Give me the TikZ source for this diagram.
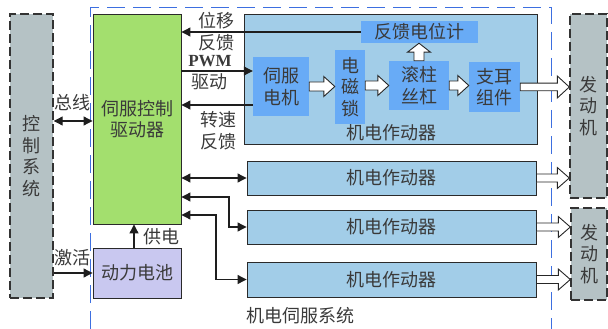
\documentclass[tikz,border=0pt]{standalone}
\usepackage{fontspec}
\setmainfont{Liberation Serif}
\newfontfamily\cjk{Noto Sans CJK SC}
\usetikzlibrary{arrows.meta,calc}
\definecolor{tc}{HTML}{3A3A3A}
\definecolor{bc}{HTML}{2A2A2A}
\definecolor{lc}{HTML}{1E1E1E}
\definecolor{gsys}{HTML}{B5C2C5}
\definecolor{gdrv}{HTML}{A3DF6E}
\definecolor{gbat}{HTML}{C9C8F0}
\definecolor{gema}{HTML}{A2CDE8}
\definecolor{ginn}{HTML}{68ABF6}
\definecolor{gfrm}{HTML}{3D6FE0}
\newcommand\blkarrow[5]{%
  \coordinate (bh) at ($(#2)!#5!(#1)$);
  \filldraw[blk] ($(#1)!#3!90:(#2)$) -- ($(bh)!#3!90:(#2)$) -- ($(bh)!#4!90:(#2)$) -- (#2)
    -- ($(bh)!#4!-90:(#2)$) -- ($(bh)!#3!-90:(#2)$) -- ($(#1)!#3!-90:(#2)$) -- cycle;}
\tikzset{
  txt/.style={font=\cjk\fontsize{18}{21.5}\selectfont, text=tc, align=center, inner sep=0pt},
  box/.style={draw=bc, line width=0.9pt, inner sep=0pt, txt},
  sysbox/.style={draw=black!80, fill=gsys, dash pattern=on 9pt off 4pt, line width=1.4pt, inner sep=0pt, txt},
  ln/.style={draw=lc, line width=1.1pt, >={Triangle[length=9pt,width=9pt]}},
  blk/.style={draw=black!85, fill=white, line width=0.9pt, line join=miter},
  frm/.style={draw=gfrm, line width=1pt, dash pattern=on 18pt off 8pt}
}
\begin{document}
\begin{tikzpicture}[x=1pt,y=-1pt]
\useasboundingbox (0,0) rectangle (608,329);
% frame
\draw[frm] (90,329) -- (90,8) -- (551,8) -- (551,329);
\node[txt] (frmlbl) at (300,316) {机电伺服系统};
% system boxes
\node[sysbox, minimum width=43pt, minimum height=284pt] (ctrl) at (31.5,156) {控\\制\\系\\统};
\node[sysbox, minimum width=37pt, minimum height=184pt] (eng1) at (588.5,106) {发\\动\\机};
\node[sysbox, minimum width=36pt, minimum height=92pt] (eng2) at (589,254) {发\\动\\机};
% driver and battery
\node[box, fill=gdrv, minimum width=88pt, minimum height=210pt] (drv) at (137,119) {伺服控制\\驱动器};
\node[box, fill=gbat, minimum width=88pt, minimum height=50pt] (bat) at (137,273) {动力电池};
% EMA 1
\node[box, fill=gema, minimum width=293pt, minimum height=130pt] (ema1) at (390.5,79) {};
\node[txt] (ema1lbl) at (391,133) {机电作动器};
\node[txt, fill=ginn, minimum width=56pt, minimum height=59pt] (motor) at (281,86.5) {伺服\\电机};
\node[txt, fill=ginn, minimum width=30pt, minimum height=74pt] (lock) at (350,87) {电\\磁\\锁};
\node[txt, fill=ginn, minimum width=60pt, minimum height=49pt] (screw) at (419,85.5) {滚柱\\丝杠};
\node[txt, fill=ginn, minimum width=51pt, minimum height=50pt] (lug) at (494.5,87) {支耳\\组件};
\node[txt, fill=ginn, minimum width=117pt, minimum height=22pt] (pot) at (419.5,32) {反馈电位计};
% other EMAs
\node[box, fill=gema, minimum width=289pt, minimum height=34pt] (ema2) at (391.5,178) {机电作动器};
\node[box, fill=gema, minimum width=289pt, minimum height=34pt] (ema3) at (391.5,227) {机电作动器};
\node[box, fill=gema, minimum width=289pt, minimum height=35pt] (ema4) at (391.5,279.5) {机电作动器};
% block arrows
\coordinate (t1) at (motor.east -| lock.west);
\blkarrow{motor.east}{t1}{4.5pt}{10pt}{11pt}
\coordinate (s2) at (screw.west -| lock.east);
\blkarrow{s2}{screw.west}{4.5pt}{10pt}{11pt}
\coordinate (t3) at (screw.east -| lug.west);
\blkarrow{screw.east}{t3}{4.5pt}{10pt}{11pt}
\coordinate (t4) at (screw.north |- pot.south);
\blkarrow{screw.north}{t4}{5pt}{11.5pt}{9pt}
\coordinate (t5) at (lug.east -| eng1.west);
\blkarrow{lug.east}{t5}{3.8pt}{11pt}{12pt}
\coordinate (t6) at (ema2.east -| eng1.west);
\blkarrow{ema2.east}{t6}{4pt}{10.5pt}{12pt}
\coordinate (t7) at (ema3.east -| eng2.west);
\blkarrow{ema3.east}{t7}{4pt}{10.5pt}{12pt}
\coordinate (t8) at (ema4.east -| eng2.west);
\blkarrow{ema4.east}{t8}{4pt}{10.5pt}{12pt}
% signal lines
\coordinate (yP) at (0,71);
\coordinate (yS) at (0,105);
\coordinate (yB) at (0,121);
\draw[ln,->] (pot.west) -- (pot.west -| drv.east);
\draw[ln,->] (drv.east |- yP) -- (motor.west |- yP);
\draw[ln,->] (motor.west |- yS) -- (drv.east |- yS);
\draw[ln,<->] (ctrl.east |- yB) -- (drv.west |- yB);
\draw[ln,->] (ctrl.east |- bat.west) -- (bat.west);
\draw[ln,->] ([xshift=-3pt]bat.north) -- ([xshift=-3pt]drv.south);
\draw[ln,<->] (drv.east |- ema2.west) -- (ema2.west);
\coordinate (a3) at (drv.east |- 0,197);
\coordinate (k3) at (229,227);
\draw[ln,<->] (a3) -| (k3) -- (ema3.west);
\coordinate (a4) at (drv.east |- 0,215);
\coordinate (k4) at (216,279.5);
\draw[ln,<->] (a4) -| (k4) -- (ema4.west);
% labels
\node[txt] (lwy) at (216,31.5) {位移\\反馈};
\node[txt, font=\bfseries\fontsize{17}{20}\selectfont] (lpwm) at (210,61) {PWM};
\node[txt] (lqd) at (209,82) {驱动};
\node[txt] (lzs) at (218,130.5) {转速\\反馈};
\node[txt] (lzx) at (72,103) {总线};
\node[txt] (ljh) at (72,258) {激活};
\node[txt] (lgd) at (161,237) {供电};
\end{tikzpicture}
\end{document}
